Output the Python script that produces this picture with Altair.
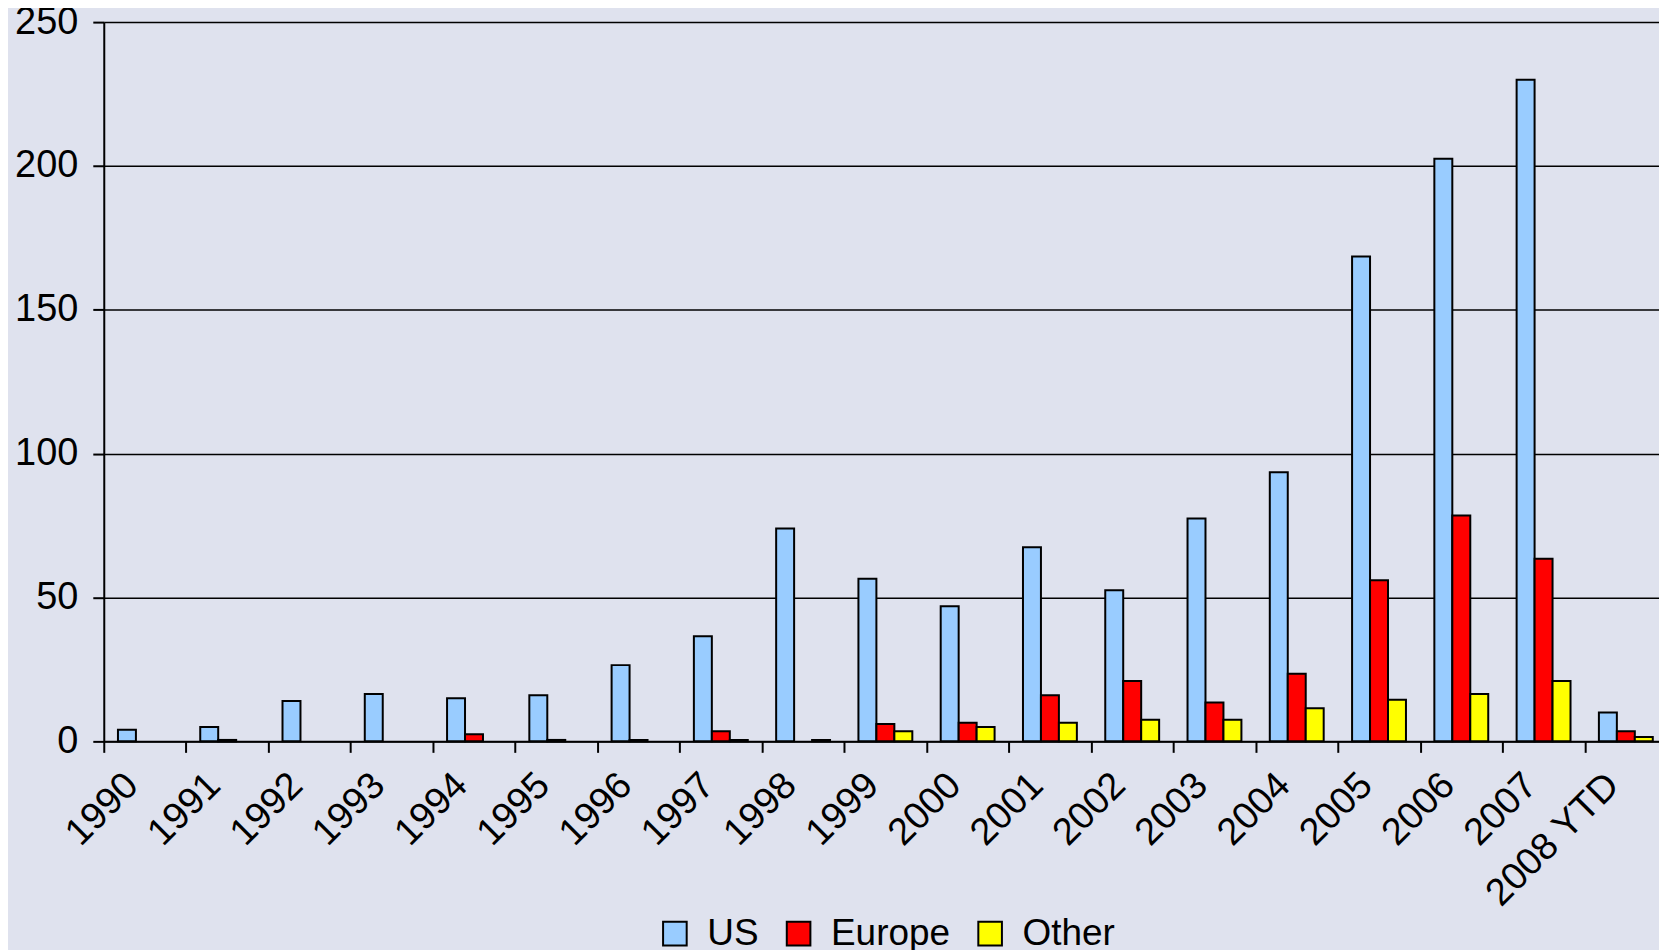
import altair as alt
import pandas as pd

years = ["1990", "1991", "1992", "1993", "1994", "1995", "1996", "1997", "1998", "1999",
         "2000", "2001", "2002", "2003", "2004", "2005", "2006", "2007", "2008 YTD"]
series = ["US", "Europe", "Other"]
us = [4, 5, 14, 16.5, 15, 16, 26.5, 36.5, 74, 56.5, 47, 67.5, 52.5, 77.5, 93.5, 168.5, 202.5, 230, 10]
europe = [0, 0.5, 0, 0, 2.5, 0.5, 0.5, 3.5, 0, 6, 6.5, 16, 21, 13.5, 23.5, 56, 78.5, 63.5, 3.5]
other = [0, 0, 0, 0, 0, 0, 0, 0.5, 0.5, 3.5, 5, 6.5, 7.5, 7.5, 11.5, 14.5, 16.5, 21, 1.5]
colors = ["#99CCFF", "#FF0000", "#FFFF00"]
y_ticks = [0, 50, 100, 150, 200, 250]

rows = []
for name, vals in zip(series, [us, europe, other]):
    for yr, v in zip(years, vals):
        rows.append({"year": yr, "series": name, "value": v})
df = pd.DataFrame(rows)

FONT = "Liberation Sans"
FS = 38

chart = alt.Chart(df).transform_filter(alt.datum.value > 0).mark_bar(
    stroke="black", strokeWidth=2
).encode(
    x=alt.X("year:N", sort=years, title=None,
            scale=alt.Scale(paddingInner=0, paddingOuter=0, range=[0, 1567]),
            axis=alt.Axis(labelAngle=315, labelAlign="right", labelBaseline="middle",
                          labelPadding=27, labelOffset=-13, tickBand="extent",
                          tickSize=11, grid=False, labelFontSize=FS, labelFont=FONT,
                          labelColor="black")),
    xOffset=alt.XOffset("series:N", sort=series,
                        scale=alt.Scale(paddingOuter=0.79, paddingInner=0)),
    y=alt.Y("value:Q", title=None,
            scale=alt.Scale(domain=[0, 250], nice=False),
            axis=alt.Axis(values=y_ticks, grid=True, gridColor="black", gridWidth=1.5,
                          gridOpacity=1, tickSize=11, labelPadding=15,
                          labelFontSize=FS, labelFont=FONT, labelColor="black")),
    color=alt.Color("series:N", sort=series,
                    scale=alt.Scale(domain=series, range=colors),
                    legend=alt.Legend(title=None, orient="none", direction="horizontal",
                                      legendX=554, legendY=895,
                                      symbolType="square", symbolSize=560,
                                      symbolStrokeColor="black", symbolStrokeWidth=2,
                                      symbolOpacity=1,
                                      labelFontSize=37, labelFont=FONT, labelColor="black",
                                      labelOffset=14, columnPadding=21)),
).properties(
    width=1559, height=721,
    padding={"left": 96, "top": 13, "right": 0, "bottom": 208},
    autosize="none",
    background="#DFE2EE",
).configure_view(strokeWidth=0).configure_axis(
    domainColor="black", domainWidth=2, tickColor="black", tickWidth=2
)

chart.save("out.html", embed_options={"renderer": "svg", "actions": False})
